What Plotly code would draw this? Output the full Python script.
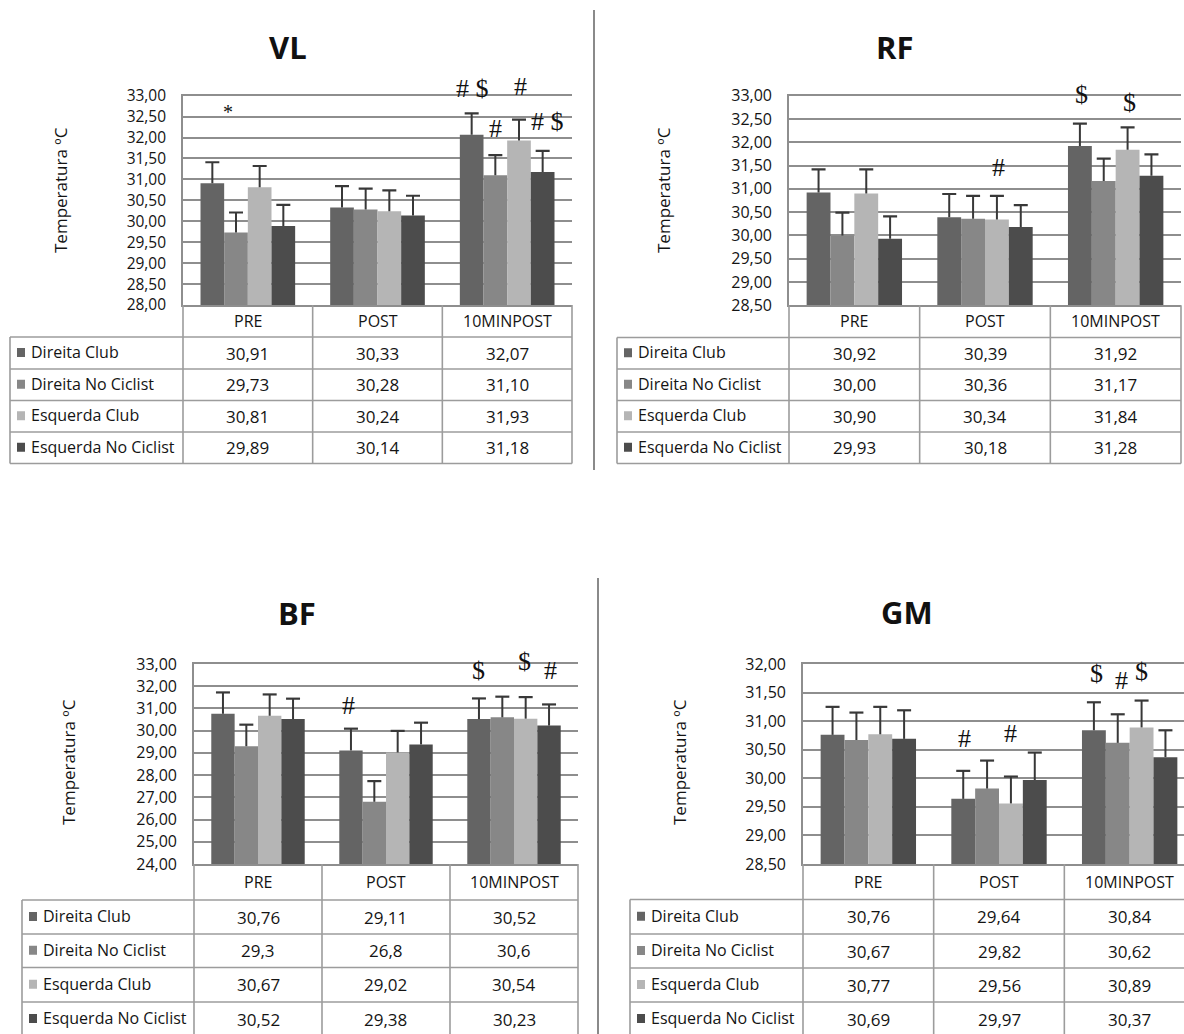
import plotly.graph_objects as go

W, H = 1184, 1034

# ---------------- data ----------------
categories = ["PRE", "POST", "10MINPOST"]
series_names = ["Direita Club", "Direita No Ciclist", "Esquerda Club", "Esquerda No Ciclist"]
series_colors = ["#646464", "#878787", "#b5b5b5", "#4c4c4c"]

# rows = series, columns = categories
vl_values = [[30.91, 30.33, 32.07], [29.73, 30.28, 31.10], [30.81, 30.24, 31.93], [29.89, 30.14, 31.18]]
vl_errors = [[0.50, 0.51, 0.51], [0.48, 0.50, 0.48], [0.51, 0.50, 0.50], [0.50, 0.47, 0.50]]
vl_decimals = [2, 2, 2, 2]

rf_values = [[30.92, 30.39, 31.92], [30.00, 30.36, 31.17], [30.90, 30.34, 31.84], [29.93, 30.18, 31.28]]
rf_errors = [[0.50, 0.50, 0.48], [0.49, 0.49, 0.48], [0.52, 0.51, 0.48], [0.48, 0.47, 0.46]]
rf_decimals = [2, 2, 2, 2]

bf_values = [[30.76, 29.11, 30.52], [29.3, 26.8, 30.6], [30.67, 29.02, 30.54], [30.52, 29.38, 30.23]]
bf_errors = [[0.96, 0.98, 0.93], [0.97, 0.93, 0.93], [0.96, 0.97, 0.97], [0.92, 0.98, 0.95]]
bf_decimals = [2, 1, 2, 2]

gm_values = [[30.76, 29.64, 30.84], [30.67, 29.82, 30.62], [30.77, 29.56, 30.89], [30.69, 29.97, 30.37]]
gm_errors = [[0.49, 0.49, 0.49], [0.48, 0.49, 0.50], [0.48, 0.47, 0.47], [0.50, 0.48, 0.47]]
gm_decimals = [2, 2, 2, 2]

# significance marks: (text, category index, series position, y value)
vl_marks = [("*", 0, 0.65, 32.62), ("# $", 2, 0.05, 33.18), ("#", 2, 2.05, 33.22),
            ("#", 2, 1.02, 32.22), ("# $", 2, 3.19, 32.38)]
rf_marks = [("$", 2, 0.07, 33.03), ("$", 2, 2.08, 32.85), ("#", 1, 2.07, 31.46)]
bf_marks = [("#", 1, -0.1, 31.15), ("$", 2, 0.0, 32.73), ("$", 2, 1.95, 33.10), ("#", 2, 3.08, 32.71)]
gm_marks = [("#", 1, 0.06, 30.70), ("#", 1, 1.97, 30.79), ("$", 2, 0.13, 31.84),
            ("#", 2, 1.14, 31.72), ("$", 2, 2.01, 31.87)]

y_title = "Temperatura ºC"

# ---------------- layout geometry (pixels) ----------------
panels = [
    dict(title="VL", values=vl_values, errors=vl_errors, decimals=vl_decimals, marks=vl_marks,
         yrange=[28, 33], dtick=0.5, plot=(183, 572, 95.7, 305), tick_size=15.5,
         table_left=10, rows=[337, 369, 400.5, 432, 463.5], title_xy=(288, 47), ytitle_xy=(60, 190)),
    dict(title="RF", values=rf_values, errors=rf_errors, decimals=rf_decimals, marks=rf_marks,
         yrange=[28.5, 33], dtick=0.5, plot=(789, 1181, 95.7, 305.3), tick_size=16,
         table_left=617, rows=[337.5, 369, 400.5, 432, 463.5], title_xy=(894, 47), ytitle_xy=(663, 190)),
    dict(title="BF", values=bf_values, errors=bf_errors, decimals=bf_decimals, marks=bf_marks,
         yrange=[24, 33], dtick=1, plot=(194, 578, 664, 864), tick_size=16,
         table_left=22, rows=[900, 934, 967.5, 1002, 1036], title_xy=(297, 613), ytitle_xy=(68, 762)),
    dict(title="GM", values=gm_values, errors=gm_errors, decimals=gm_decimals, marks=gm_marks,
         yrange=[28.5, 32], dtick=0.5, plot=(803, 1195, 664, 864), tick_size=16,
         table_left=630, rows=[899.5, 934, 968, 1002, 1036], title_xy=(907, 612), ytitle_xy=(679, 762)),
]

FONT = "Open Sans"
TXT = "#141414"
GRID = "#8e8e8e"
TLINE = "#9c9c9c"
ERRC = "#383838"
NBAR = len(series_names)
BARGAP = 0.27
BARW = (1 - BARGAP) / NBAR


def px(x):
    return x / W


def py(y):
    return 1 - y / H


def fmt(v, d):
    return f"{v:.{d}f}".replace(".", ",")


fig = go.Figure()
annotations = []
shapes = []
axes = {}

for k, p in enumerate(panels):
    sfx = "" if k == 0 else str(k + 1)
    L, R, T, B = p["plot"]
    Rv = min(R, W)
    colw = (R - L) / 3.0
    xr = [-0.5, -0.5 + (Rv - L) / colw]
    y0, y1 = p["yrange"]

    axes["xaxis" + sfx] = dict(domain=[px(L), px(Rv)], range=xr, anchor="y" + sfx,
                              showticklabels=False, showgrid=False, zeroline=False,
                              showline=True, mirror=True, linecolor=GRID, linewidth=1.6,
                              ticks="", fixedrange=True, automargin=False)
    axes["yaxis" + sfx] = dict(domain=[py(B), py(T)], range=[y0, y1], anchor="x" + sfx,
                              tick0=y0, dtick=p["dtick"], tickformat=".2f",
                              showgrid=True, gridcolor=GRID, gridwidth=1.6, zeroline=False,
                              showline=True, linecolor=GRID, linewidth=1.6, ticks="",
                              ticklabelstandoff=12, automargin=False,
                              tickfont=dict(family=FONT, size=p["tick_size"], color=TXT),
                              fixedrange=True)

    for s, name in enumerate(series_names):
        vals = p["values"][s]
        errs = p["errors"][s]
        fig.add_trace(go.Bar(
            x=categories, y=vals, name=name,
            xaxis="x" + sfx, yaxis="y" + sfx,
            marker=dict(color=series_colors[s], line=dict(width=0)),
            showlegend=False,
        ))
    # upward-only error bars: a cap marker at value + error, with a line down to the bar top
    for s, name in enumerate(series_names):
        vals = p["values"][s]
        errs = p["errors"][s]
        fig.add_trace(go.Scatter(
            x=categories, y=[v + e for v, e in zip(vals, errs)], name=name + " error",
            xaxis="x" + sfx, yaxis="y" + sfx, mode="markers",
            marker=dict(symbol="line-ew", size=10, color=ERRC, line=dict(color=ERRC, width=2.2)),
            error_y=dict(type="data", symmetric=False, array=[0] * len(categories),
                         arrayminus=errs, color=ERRC, thickness=2, width=0),
            cliponaxis=True, showlegend=False,
        ))

    # title
    tx, ty = p["title_xy"]
    annotations.append(dict(text="<b>%s</b>" % p["title"], x=px(tx), y=py(ty), xref="paper", yref="paper",
                            showarrow=False, xanchor="center", yanchor="middle",
                            font=dict(family=FONT, size=31, color="#111111")))
    # y title
    ax_, ay_ = p["ytitle_xy"]
    annotations.append(dict(text=y_title, x=px(ax_), y=py(ay_), xref="paper", yref="paper",
                            showarrow=False, textangle=-90, xanchor="center", yanchor="middle",
                            font=dict(family=FONT, size=17, color=TXT)))

    # significance marks
    def xpix(cat, spos):
        c = cat + (-1.5 + spos) * BARW
        return L + (c + 0.5) * colw

    def ypix(v):
        return B - (v - y0) / (y1 - y0) * (B - T)

    for text, cat, spos, val in p["marks"]:
        annotations.append(dict(text=text, x=px(xpix(cat, spos)), y=py(ypix(val)),
                                xref="paper", yref="paper", showarrow=False,
                                xanchor="center", yanchor="middle",
                                font=dict(family="Liberation Serif", size=20 if text == "*" else 26,
                                          color="#111111")))

    # ---------- table ----------
    rows = p["rows"]
    tl = p["table_left"]
    edges = [L + i * colw for i in range(4)]
    lw = 1.6
    for e in edges:
        shapes.append(dict(type="line", xref="paper", yref="paper", x0=px(e), x1=px(e),
                           y0=py(B), y1=py(rows[-1]), line=dict(color=TLINE, width=lw)))
    shapes.append(dict(type="line", xref="paper", yref="paper", x0=px(tl), x1=px(tl),
                       y0=py(rows[0]), y1=py(rows[-1]), line=dict(color=TLINE, width=lw)))
    for r in rows:
        shapes.append(dict(type="line", xref="paper", yref="paper", x0=px(tl), x1=px(R),
                           y0=py(r), y1=py(r), line=dict(color=TLINE, width=lw)))
    for i, c in enumerate(categories):
        annotations.append(dict(text=c, x=px(L + (i + 0.5) * colw), y=py((B + rows[0]) / 2),
                                xref="paper", yref="paper", showarrow=False,
                                xanchor="center", yanchor="middle",
                                font=dict(family=FONT, size=16, color=TXT)))
    for s, name in enumerate(series_names):
        yc = (rows[s] + rows[s + 1]) / 2
        shapes.append(dict(type="rect", xref="paper", yref="paper",
                           x0=px(tl + 7), x1=px(tl + 15), y0=py(yc - 5), y1=py(yc + 4),
                           fillcolor=series_colors[s], line=dict(width=0)))
        annotations.append(dict(text=name, x=px(tl + 19), y=py(yc - 1), xref="paper", yref="paper",
                                showarrow=False, xanchor="left", yanchor="middle",
                                font=dict(family=FONT, size=16, color=TXT)))
        for i in range(len(categories)):
            annotations.append(dict(text=fmt(p["values"][s][i], p["decimals"][s]),
                                    x=px(L + (i + 0.5) * colw), y=py(yc),
                                    xref="paper", yref="paper", showarrow=False,
                                    xanchor="center", yanchor="middle",
                                    font=dict(family=FONT, size=17, color=TXT)))

# separators between panels
shapes.append(dict(type="line", xref="paper", yref="paper", x0=px(594), x1=px(594),
                   y0=py(10), y1=py(470), line=dict(color="#8a8a8a", width=2)))
shapes.append(dict(type="line", xref="paper", yref="paper", x0=px(598), x1=px(598),
                   y0=py(578), y1=py(1040), line=dict(color="#8a8a8a", width=2)))

fig.update_layout(
    width=W, height=H, autosize=False,
    margin=dict(l=0, r=0, t=0, b=0, pad=0, autoexpand=False),
    paper_bgcolor="white", plot_bgcolor="white",
    barmode="group", bargap=BARGAP, bargroupgap=0,
    scattermode="group", scattergap=BARGAP,
    separators=",.",
    showlegend=False,
    annotations=annotations, shapes=shapes,
    **axes,
)

fig.write_html(
    "out.html",
    config={"responsive": False, "displayModeBar": False},
    post_script="document.body.style.margin='0';document.body.style.padding='0';"
                "document.body.style.overflow='hidden';",
)
